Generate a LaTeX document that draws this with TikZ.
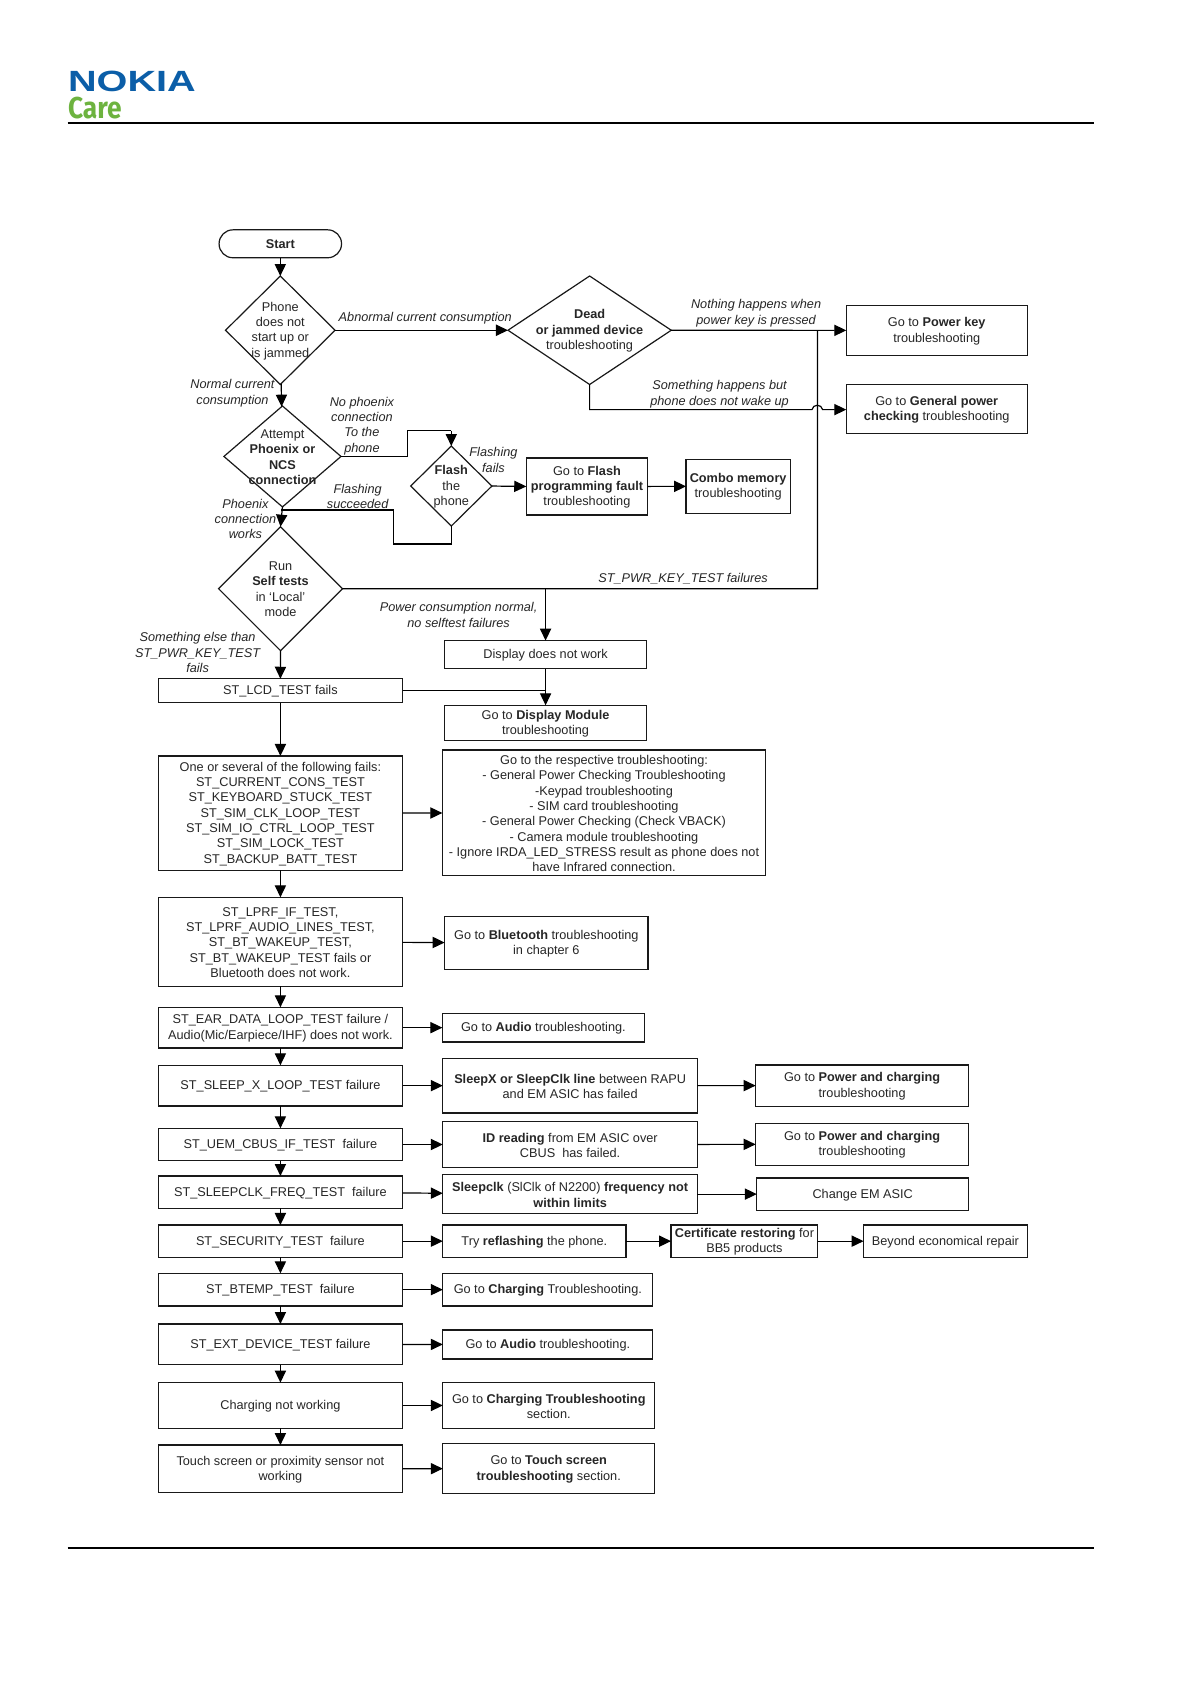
\documentclass[tikz,border=0pt]{standalone}
\usepackage{fontspec}
\setmainfont{Liberation Sans}
\newfontfamily\carefont{Fira Sans}
\usetikzlibrary{arrows.meta,shapes.geometric,calc}
\definecolor{nokiablue}{HTML}{0B5EA8}
\definecolor{caregreen}{HTML}{6DB33F}
\newcommand\bx[6]{\node[boxn,minimum width={(#4-#2)*0.5365pt},minimum height={(#5-#3)*0.5365pt},label={[txt]center:{#6}}] (#1) at ({(#2+#4)/2},{(#3+#5)/2}) {};}
\newcommand\dm[6]{\node[dian,minimum width={(#4-#2)*0.5365pt},minimum height={(#5-#3)*0.5365pt},label={[txt]center:{#6}}] (#1) at ({(#2+#4)/2},{(#3+#5)/2}) {};}
\tikzset{
  txt/.style={font=\fontsize{6.35}{7.67}\selectfont,align=center,inner sep=0pt,outer sep=0pt,text=black!85,yshift=-0.35pt},
  boxn/.style={draw=black!90,line width=.6pt,inner sep=0pt,outer sep=0pt},
  dian/.style={diamond,draw=black!90,line width=.6pt,inner sep=0pt,outer sep=0pt,aspect=1},
  lab/.style={txt,font=\fontsize{6.35}{7.67}\selectfont\itshape},
  conn/.style={line width=.6pt,-{Triangle[length=6pt,width=5.6pt]}},
  plain/.style={line width=.6pt},
  rulel/.style={line width=1.05pt}
}
\begin{document}
\begin{tikzpicture}[x=0.5365pt,y=-0.5365pt]
\useasboundingbox[fill=white] (0,0) rectangle (1109,1568);
% header and footer
\node[anchor=north west,inner sep=0pt,text=nokiablue] (nokia) at (63,66) {\resizebox{63.8pt}{10.2pt}{\bfseries NOKIA}};
\node[anchor=north west,inner sep=0pt,text=caregreen] (care) at (63,90) {\resizebox{26.8pt}{10.7pt}{\carefont\bfseries Care}};
\coordinate (hl) at (63,114.4); \coordinate (hr) at (1019,114.4);
\coordinate (fl) at (63,1441); \coordinate (fr) at (1019,1441);
\draw[rulel] (hl) -- (hr);
\draw[rulel] (fl) -- (fr);
% top part
\node[boxn,rounded corners=6.9pt,minimum width={114*0.5365pt},minimum height={26*0.5365pt},label={[txt]center:{\textbf{Start}}}] (start) at (261,227) {};
\dm{d1}{210}{257}{312}{358}{Phone\\does not\\start up or\\is jammed}
\dm{d2}{473}{257}{625}{358}{\textbf{Dead}\\\textbf{or jammed device}\\troubleshooting}
\dm{d3}{208.5}{378}{317.5}{472}{Attempt\\\textbf{Phoenix or}\\\textbf{NCS}\\\textbf{connection}}
\dm{d4}{382.4}{415.3}{458}{489.8}{\textbf{Flash}\\the\\phone}
\dm{d5}{203.5}{490.4}{318.9}{605.8}{Run\\\textbf{Self tests}\\in ‘Local’\\mode}
\bx{ff}{490}{426.4}{603}{479.5}{Go to \textbf{Flash}\\\textbf{programming fault}\\troubleshooting}
\bx{combo}{638.8}{427.7}{735.8}{477.9}{\textbf{Combo memory}\\troubleshooting}
\bx{pk}{788}{284.6}{956.4}{330.7}{Go to \textbf{Power key}\\troubleshooting}
\bx{gp}{788}{358.2}{956.4}{404}{Go to \textbf{General power}\\\textbf{checking} troubleshooting}
\bx{disp}{414}{596.5}{602}{622.6}{Display does not work}
\bx{lcd}{147.4}{632}{374.8}{654.3}{ST\_LCD\_TEST fails}
\bx{dm}{414}{656.7}{602}{689.7}{Go to \textbf{Display Module}\\troubleshooting}
\bx{one}{147.4}{703.9}{374.8}{810.4}{One or several of the following fails:\\ST\_CURRENT\_CONS\_TEST\\ST\_KEYBOARD\_STUCK\_TEST\\ST\_SIM\_CLK\_LOOP\_TEST\\ST\_SIM\_IO\_CTRL\_LOOP\_TEST\\ST\_SIM\_LOCK\_TEST\\ST\_BACKUP\_BATT\_TEST}
\bx{resp}{411.9}{698.3}{712.9}{815.3}{Go to the respective troubleshooting:\\- General Power Checking Troubleshooting\\-Keypad troubleshooting\\- SIM card troubleshooting\\- General Power Checking (Check VBACK)\\- Camera module troubleshooting\\- Ignore IRDA\_LED\_STRESS result as phone does not\\have Infrared connection.}
\bx{lprf}{147.4}{835.5}{374.8}{918.4}{ST\_LPRF\_IF\_TEST,\\ST\_LPRF\_AUDIO\_LINES\_TEST,\\ST\_BT\_WAKEUP\_TEST,\\ST\_BT\_WAKEUP\_TEST fails or\\Bluetooth does not work.}
\bx{bt}{414}{853.5}{603.4}{902.5}{Go to \textbf{Bluetooth} troubleshooting\\in chapter 6}
\bx{ear}{147.4}{937.9}{374.8}{975.8}{ST\_EAR\_DATA\_LOOP\_TEST failure /\\Audio(Mic/Earpiece/IHF) does not work.}
\bx{aud}{411.9}{943.5}{600}{970.2}{Go to \textbf{Audio} troubleshooting.}
\bx{slx}{147.4}{991.9}{374.8}{1029.8}{ST\_SLEEP\_X\_LOOP\_TEST failure}
\bx{slxb}{412.3}{985.4}{649.4}{1036.3}{\textbf{SleepX or SleepClk line} between RAPU\\and EM ASIC has failed}
\bx{pw1}{703.6}{991.6}{901.9}{1030}{Go to \textbf{Power and charging}\\troubleshooting}
\bx{uem}{147.4}{1050.6}{374.8}{1080.7}{ST\_UEM\_CBUS\_IF\_TEST~ failure}
\bx{idr}{412.3}{1044.4}{649.4}{1086.9}{\textbf{ID reading} from EM ASIC over\\CBUS~ has failed.}
\bx{pw2}{703.6}{1045.9}{901.9}{1085}{Go to \textbf{Power and charging}\\troubleshooting}
\bx{clk}{147.4}{1095}{374.8}{1125}{ST\_SLEEPCLK\_FREQ\_TEST~ failure}
\bx{clkb}{412.3}{1093.7}{649.4}{1130}{\textbf{Sleepclk} (SlClk of N2200) \textbf{frequency not}\\\textbf{within limits}}
\bx{chg}{704.7}{1096.8}{901.9}{1126.9}{Change EM ASIC}
\bx{sec}{147.4}{1140.6}{374.8}{1170.7}{ST\_SECURITY\_TEST~ failure}
\bx{try}{412.3}{1140.6}{582.8}{1170.7}{Try \textbf{reflashing} the phone.}
\bx{cert}{624.8}{1140.6}{761.5}{1170.7}{\textbf{Certificate restoring} for\\BB5 products}
\bx{ber}{804.1}{1140.6}{956.5}{1170.7}{Beyond economical repair}
\bx{btm}{147.4}{1185.6}{374.8}{1216}{ST\_BTEMP\_TEST~ failure}
\bx{ch1}{412.3}{1185.6}{607.9}{1216}{Go to \textbf{Charging} Troubleshooting.}
\bx{ext}{147.4}{1232.8}{374.8}{1270.6}{ST\_EXT\_DEVICE\_TEST failure}
\bx{aud2}{412.3}{1238.4}{607.9}{1265.4}{Go to \textbf{Audio} troubleshooting.}
\bx{cnw}{147.4}{1287.4}{374.8}{1329.9}{Charging not working}
\bx{ch2}{412.3}{1287.4}{609.6}{1329.9}{Go to \textbf{Charging Troubleshooting}\\section.}
\bx{tch}{147.4}{1345.5}{374.8}{1390}{Touch screen or proximity sensor not\\working}
\bx{tch2}{412.3}{1344.2}{609.6}{1390.4}{Go to \textbf{Touch screen}\\\textbf{troubleshooting} section.}
% italic labels
\node[lab] (l1) at (396,296) {Abnormal current consumption};
\node[lab] (l2) at (704,291) {Nothing happens when\\power key is pressed};
\node[lab] (l3) at (670,366.5) {Something happens but\\phone does not wake up};
\node[lab] (l4) at (216.5,365.5) {Normal current\\consumption};
\node[lab] (l5) at (337,396) {No phoenix\\connection\\To the\\phone};
\node[lab] (l6) at (459.5,427.5) {Flashing\\fails};
\node[lab] (l7) at (333,461.5) {Flashing\\succeeded};
\node[lab] (l8) at (228.5,482.5) {Phoenix\\connection\\works};
\node[lab] (l9) at (636,538) {ST\_PWR\_KEY\_TEST failures};
\node[lab] (l10) at (427,572) {Power consumption normal,\\no selftest failures};
\node[lab] (l11) at (184,607) {Something else than\\ST\_PWR\_KEY\_TEST\\fails};
% connectors
\coordinate (a2) at (379.4,401); \coordinate (a3) at (420.2,401);
\coordinate (b1) at (420.2,506.5); \coordinate (b2) at (366.5,506.5); \coordinate (b3) at (366.5,474.9); \coordinate (b4) at (261.7,474.9);
\coordinate (c1) at (761.2,548.1); \coordinate (c2) at (761.2,307.5);
\coordinate (e1) at (508,548.1); \coordinate (e2) at (508,643.1);
\coordinate (f1) at (549,381.4); \coordinate (f2) at (756,381.4); \coordinate (f3) at (766,381.4); \coordinate (f4) at (788,381.4);
\draw[conn] (start) -- (d1);
\draw[conn] (d1) -- (d2);
\draw[conn] (d1) -- (d3);
\draw[conn] (d2) -- (pk);
\draw[conn] (d2.south) -- (f1) -- (f2) .. controls (757,376) and (765,376) .. (f3) -- (f4);
\draw[plain] (d3.east) -- (a2 |- d3.east) -- (a2) -- (a3);
\draw[conn] (a3) -- (d4.north);
\draw[conn] (d3.south) -- (d5.north);
\draw[plain] (d4.south) -- (b1) -- (b2) -- (b3) -- (b4);
\draw[conn] (d4.east) -- (ff.west);
\draw[conn] (ff) -- (combo);
\draw[plain] (d5.east) -- (c1) -- (c2);
\draw[conn] (e1) -- (disp);
\draw[conn] (disp) -- (dm);
\draw[plain] (lcd.east |- e2) -- (e2);
\draw[conn] (d5.south) -- (lcd.north);
\draw[conn] (lcd) -- (one);
\draw[conn] (one) -- (lprf);
\draw[conn] (lprf) -- (ear);
\draw[conn] (ear) -- (slx);
\draw[conn] (slx) -- (uem);
\draw[conn] (uem) -- (clk);
\draw[conn] (clk) -- (sec);
\draw[conn] (sec) -- (btm);
\draw[conn] (btm) -- (ext);
\draw[conn] (ext) -- (cnw);
\draw[conn] (cnw) -- (tch);
\draw[conn] (one) -- (resp);
\draw[conn] (lprf) -- (bt);
\draw[conn] (ear) -- (aud);
\draw[conn] (slx) -- (slxb);
\draw[conn] (slxb) -- (pw1);
\draw[conn] (uem) -- (idr);
\draw[conn] (idr) -- (pw2);
\draw[conn] (clk) -- (clkb);
\draw[conn] (clkb) -- (chg);
\draw[conn] (sec) -- (try);
\draw[conn] (try) -- (cert);
\draw[conn] (cert) -- (ber);
\draw[conn] (btm) -- (ch1);
\draw[conn] (ext) -- (aud2);
\draw[conn] (cnw) -- (ch2);
\draw[conn] (tch) -- (tch2);
\end{tikzpicture}
\end{document}
